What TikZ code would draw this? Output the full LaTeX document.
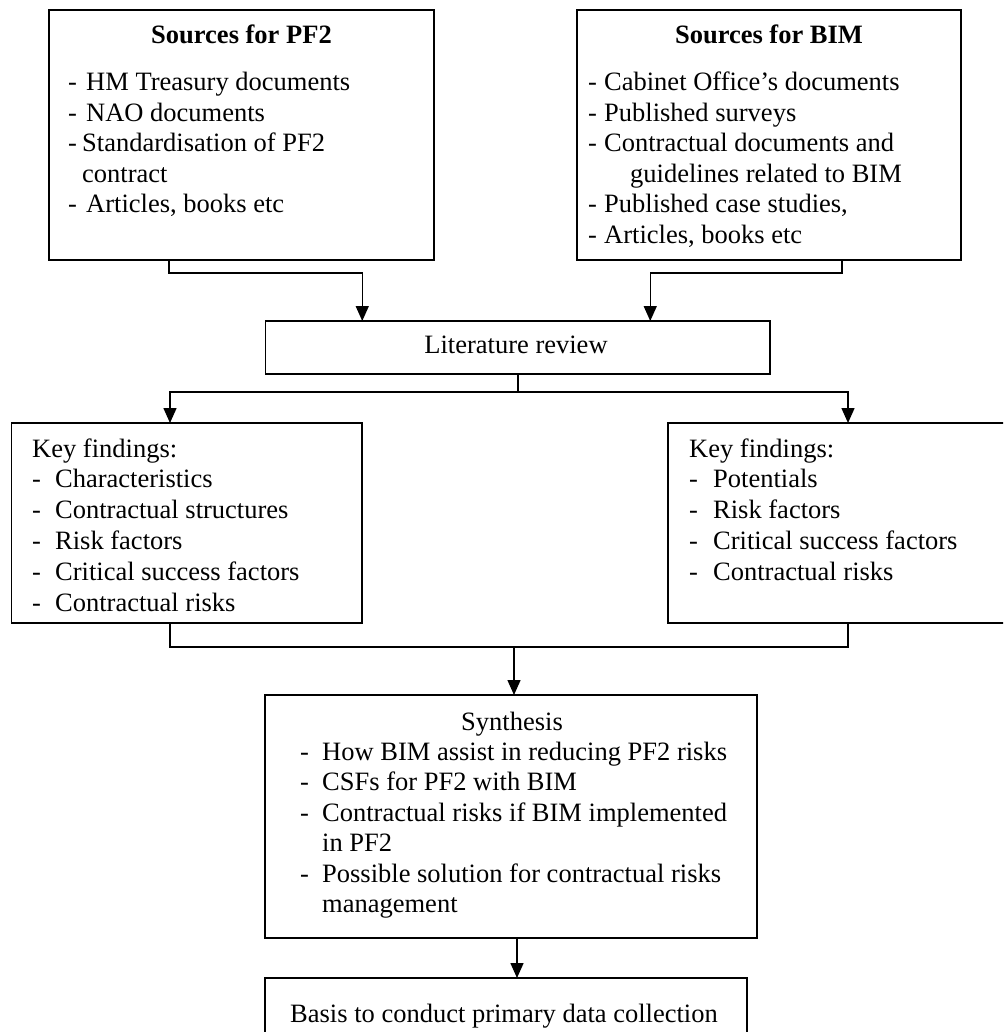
\documentclass[tikz,border=0pt]{standalone}
\usepackage{fontspec}
\setmainfont{Liberation Serif}
\usetikzlibrary{arrows.meta}
\begin{document}
\begin{tikzpicture}[x=1pt,y=-1pt,
  box/.style={draw, line width=1.5pt, rectangle, inner sep=0pt, outer sep=0pt},
  txt/.style={inner sep=0pt, anchor=base west, font=\fontsize{26.5}{30.8}\selectfont},
  ctxt/.style={inner sep=0pt, anchor=base, font=\fontsize{26.5}{30.8}\selectfont},
  ttl/.style={inner sep=0pt, anchor=base, font=\fontsize{26.5}{30.8}\selectfont\bfseries},
  link/.style={line width=1.5pt},
  arr/.style={line width=1.5pt, -{Triangle[width=13pt,length=15pt]}}]

\useasboundingbox (0,0) rectangle (1003,1032);
\clip (0,0) rectangle (1003,1032);

% boxes
\node[box, minimum width=385pt, minimum height=250pt] (pf2) at (241.5,135) {};
\node[box, minimum width=384pt, minimum height=250pt] (bim) at (769,135) {};
\node[box, minimum width=504.5pt, minimum height=53pt] (lit) at (517.75,347.5) {};
\node[box, minimum width=350.5pt, minimum height=200pt] (kl) at (186.75,523) {};
\node[box, minimum width=347pt, minimum height=200pt] (kr) at (841.5,523) {};
\node[box, minimum width=492pt, minimum height=243pt] (syn) at (511,816.5) {};
\node[box, minimum width=482pt, minimum height=67pt] (basis) at (506,1011.5) {};

% sources for PF2
\node[ttl] (pf2t) at (241.5,44) {Sources for PF2};
\node[txt] (pf2a) at (68,91) {\makebox[18pt][l]{-}HM Treasury documents};
\node[txt] (pf2b) at (68,121.5) {\makebox[18pt][l]{-}NAO documents};
\node[txt] (pf2c) at (68,152) {\makebox[14pt][l]{-}Standardisation of PF2};
\node[txt] (pf2d) at (82,182.5) {contract};
\node[txt] (pf2e) at (68,213) {\makebox[18pt][l]{-}Articles, books etc};

% sources for BIM
\node[ttl] (bimt) at (769,44) {Sources for BIM};
\node[txt] (bima) at (588,91) {\makebox[16pt][l]{-}Cabinet Office’s documents};
\node[txt] (bimb) at (588,121.5) {\makebox[16pt][l]{-}Published surveys};
\node[txt] (bimc) at (588,152) {\makebox[16pt][l]{-}Contractual documents and};
\node[txt] (bimd) at (630,182.5) {guidelines related to BIM};
\node[txt] (bime) at (588,213) {\makebox[16pt][l]{-}Published case studies,};
\node[txt] (bimf) at (588,243.5) {\makebox[16pt][l]{-}Articles, books etc};

% literature review
\node[ctxt] (litt) at (516,353) {Literature review};

% key findings, left
\node[txt] (kla) at (32,457) {Key findings:};
\node[txt] (klb) at (32,487.8) {\makebox[23pt][l]{-}Characteristics};
\node[txt] (klc) at (32,518.6) {\makebox[23pt][l]{-}Contractual structures};
\node[txt] (kld) at (32,549.4) {\makebox[23pt][l]{-}Risk factors};
\node[txt] (kle) at (32,580.2) {\makebox[23pt][l]{-}Critical success factors};
\node[txt] (klf) at (32,611) {\makebox[23pt][l]{-}Contractual risks};

% key findings, right
\node[txt] (kra) at (689,457) {Key findings:};
\node[txt] (krb) at (689,487.8) {\makebox[24pt][l]{-}Potentials};
\node[txt] (krc) at (689,518.6) {\makebox[24pt][l]{-}Risk factors};
\node[txt] (krd) at (689,549.4) {\makebox[24pt][l]{-}Critical success factors};
\node[txt] (kre) at (689,580.2) {\makebox[24pt][l]{-}Contractual risks};

% synthesis
\node[ctxt] (synt) at (512,730) {Synthesis};
\node[txt] (syna) at (300,760.4) {\makebox[22pt][l]{-}How BIM assist in reducing PF2 risks};
\node[txt] (synb) at (300,790.8) {\makebox[22pt][l]{-}CSFs for PF2 with BIM};
\node[txt] (sync) at (300,821.2) {\makebox[22pt][l]{-}Contractual risks if BIM implemented};
\node[txt] (synd) at (322,851.6) {in PF2};
\node[txt] (syne) at (300,882) {\makebox[22pt][l]{-}Possible solution for contractual risks};
\node[txt] (synf) at (322,912.4) {management};

% basis
\node[ctxt] (basist) at (504,1022) {Basis to conduct primary data collection};

% connectors
\draw[arr] ([xshift=-72.5pt]pf2.south) -- ++(0,13) -| ([xshift=-155.5pt]lit.north);
\draw[arr] ([xshift=73pt]bim.south) -- ++(0,13) -| ([xshift=132.5pt]lit.north);

\coordinate (jl) at ([yshift=-18pt]lit.south);
\draw[link] (lit.south) -- (jl);
\draw[arr] (jl) -| ([xshift=-16.75pt]kl.north);
\draw[arr] (jl) -| ([xshift=6.5pt]kr.north);

\coordinate (jk) at (514,647);
\draw[link] ([xshift=-16.75pt]kl.south) |- (jk) -| ([xshift=6.5pt]kr.south);
\draw[arr] (jk) -- (jk |- syn.north);

\draw[arr] ([xshift=6pt]syn.south) -- ([xshift=6pt]syn.south |- basis.north);
\end{tikzpicture}
\end{document}
